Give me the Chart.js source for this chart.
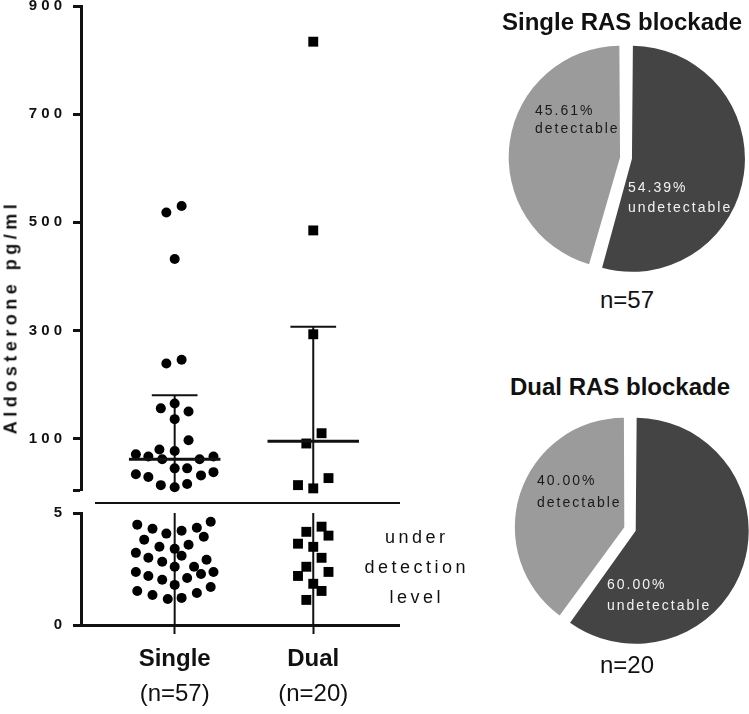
<!DOCTYPE html>
<html>
<head>
<meta charset="utf-8">
<script src="https://cdn.jsdelivr.net/npm/chart.js@4.4.1/dist/chart.umd.min.js"></script>
<style>
  html, body { margin: 0; padding: 0; background: #fff; }
  body { width: 749px; height: 714px; position: relative; overflow: hidden; font-family: "Liberation Sans", Arial, sans-serif; color: #111; }
  canvas { position: absolute; }
  .txt { position: absolute; white-space: nowrap; }
  .title { font-size: 24px; font-weight: bold; line-height: 24px; transform: translateX(-50%); }
  .count { font-size: 24px; line-height: 24px; transform: translateX(-50%); }
  .slice { font-size: 14px; letter-spacing: 2px; }
</style>
</head>
<body>
<canvas id="upper" width="400" height="496" style="left:0;top:0"></canvas>
<div style="position:absolute;left:95px;top:502px;width:305px;height:2px;background:#111"></div>
<canvas id="lower" width="400" height="209" style="left:0;top:505px"></canvas>
<div class="txt" style="left:11px;top:317px;font-size:18px;font-weight:bold;letter-spacing:4.5px;transform:translate(-50%,-50%) rotate(-90deg)">Aldosterone pg/ml</div>
<div class="txt" style="left:415px;top:522px;font-size:18px;line-height:30px;letter-spacing:3.5px;text-align:center;transform:translateX(-50%);padding-left:3.5px">under<br>detection<br>level</div>

<canvas id="pieSingle" width="250" height="250" style="left:501px;top:33px"></canvas>
<canvas id="pieDual" width="250" height="250" style="left:505px;top:404px"></canvas>
<div class="txt title" style="left:622px;top:10px">Single RAS blockade</div>
<div class="txt count" style="left:627px;top:288px">n=57</div>
<div class="txt title" style="left:620px;top:375px">Dual RAS blockade</div>
<div class="txt count" style="left:627px;top:653px">n=20</div>
<div class="txt slice" style="left:535px;top:101px;line-height:18px;color:#1a1a1a">45.61%<br>detectable</div>
<div class="txt slice" style="left:628px;top:177px;line-height:20px;color:#f2f2f2">54.39%<br>undetectable</div>
<div class="txt slice" style="left:537px;top:469px;line-height:22px;color:#1a1a1a">40.00%<br>detectable</div>
<div class="txt slice" style="left:607px;top:574px;line-height:21px;color:#f2f2f2">60.00%<br>undetectable</div>

<script>
const family = '"Liberation Sans", Arial, sans-serif'

const groups = ['Single', 'Dual']
const groupN = [57, 20]
const groupPos = [1, 2]

// detectable aldosterone (pg/ml) and horizontal scatter of each dot
const singleHigh = [530, 518, 432, 246, 239, 165, 156, 150, 136, 97, 80, 77, 71, 67, 62, 62, 67, 45, 45, 34, 29, 32, 38, 14, 10, 16]
const singleHighDx = [0.05, -0.06, 0, 0.05, -0.06, 0, -0.1, 0.1, 0, 0.1, -0.11, 0, -0.28, -0.19, -0.09, 0.18, 0.28, 0, 0.09, -0.28, -0.19, 0.19, 0.28, -0.1, 0, 0.09]
const dualHigh = [834, 485, 293, 110, 91, 14, 8, 27]
const dualHighDx = [0, 0, 0, 0.06, -0.05, -0.11, 0, 0.11]

// under detection level
const singleLow = [4.48, 4.30, 4.08, 4.21, 4.34, 4.61, 3.81, 3.94, 3.49, 3.40, 3.58, 3.22, 3.00, 3.09, 2.82, 2.91, 2.60, 2.60, 2.37, 2.28, 2.37, 2.19, 2.10, 2.02, 1.79, 1.52, 1.34, 1.16, 1.21, 1.43, 1.70]
const singleLowDx = [-0.27, -0.16, -0.06, 0.05, 0.16, 0.26, -0.22, 0.21, -0.11, 0, 0.1, -0.28, -0.19, 0.05, -0.09, 0.23, 0, 0.14, -0.28, 0.19, 0.28, -0.19, 0.09, -0.09, 0, -0.27, -0.16, -0.05, 0.05, 0.16, 0.26]
const dualLow = [4.16, 4.39, 3.99, 3.63, 3.49, 3.00, 2.60, 2.37, 2.19, 1.84, 1.52, 1.12]
const dualLowDx = [-0.05, 0.06, 0.11, -0.11, 0, 0.06, -0.05, 0.11, -0.11, 0, 0.06, -0.05]

// summary lines
const medians = [62, 95]
const whiskerTop = [180, 307]
const whiskerBottom = [0, 0]

const upperTicks = [5, 100, 300, 500, 700, 900]
const lowerTicks = [0, 5]

const pieLabels = ['undetectable', 'detectable']
const singleShares = [54.39, 45.61]
const dualShares = [60.00, 40.00]

const xMin = 0.324
const xMax = 2.626

const toPoints = (vals, dx, pos) => vals.map((v, i) => ({x: pos + dx[i], y: v}))

function dots(data, style, r) {
	return {data: data, pointStyle: style, pointRadius: r, pointHoverRadius: r, backgroundColor: '#000', borderWidth: 0, clip: false}
}

// keep the plot area where the layout padding puts it
function fixBox(size) {
	return s => {
		if (s.isHorizontal()) s.height = size
		else s.width = size
		s.paddingTop = s.paddingBottom = s.paddingLeft = s.paddingRight = 0
	}
}

function yAxis(min, max, ticks, hideFirst) {
	return {
		min: min,
		max: max,
		afterFit: fixBox(81),
		afterBuildTicks: s => { s.ticks = ticks.map(v => ({value: v})) },
		grid: {drawOnChartArea: false, tickLength: 8, tickWidth: 3, color: '#111'},
		border: {width: 3, color: '#111'},
		ticks: {
			color: '#111', padding: 11,
			font: {size: 15, weight: 'bold', family: family},
			callback: (v, i) => (hideFirst && i === 0) ? '' : String(v).split('').join(' ')
		}
	}
}

const summaryLines = {
	id: 'summaryLines',
	beforeDatasetsDraw(chart) {
		const {ctx, scales: {x, y}} = chart
		ctx.save()
		ctx.strokeStyle = '#111'
		ctx.lineWidth = 2
		groupPos.forEach((c, i) => {
			const top = Math.min(whiskerTop[i], y.max)
			const bottom = Math.max(whiskerBottom[i], y.min)
			if (top <= bottom) return
			const px = x.getPixelForValue(c)
			ctx.beginPath()
			ctx.moveTo(px, y.getPixelForValue(bottom))
			ctx.lineTo(px, y.getPixelForValue(top))
			ctx.stroke()
		})
		ctx.restore()
	},
	afterDatasetsDraw(chart) {
		const {ctx, scales: {x, y}} = chart
		ctx.save()
		ctx.strokeStyle = '#111'
		groupPos.forEach((c, i) => {
			if (whiskerTop[i] >= y.min && whiskerTop[i] <= y.max) {
				const py = y.getPixelForValue(whiskerTop[i])
				ctx.lineWidth = 2
				ctx.beginPath()
				ctx.moveTo(x.getPixelForValue(c - 0.165), py)
				ctx.lineTo(x.getPixelForValue(c + 0.165), py)
				ctx.stroke()
			}
			if (medians[i] >= y.min && medians[i] <= y.max) {
				const py = y.getPixelForValue(medians[i])
				ctx.lineWidth = 3
				ctx.beginPath()
				ctx.moveTo(x.getPixelForValue(c - 0.33), py)
				ctx.lineTo(x.getPixelForValue(c + 0.33), py)
				ctx.stroke()
			}
		})
		ctx.restore()
	}
}

const common = {
	responsive: false,
	animation: false,
	devicePixelRatio: 1,
	plugins: {legend: {display: false}, tooltip: {enabled: false}}
}

new Chart(document.getElementById('upper'), {
	type: 'scatter',
	data: {
		datasets: [
			dots(toPoints(singleHigh, singleHighDx, groupPos[0]), 'circle', 5),
			dots(toPoints(dualHigh, dualHighDx, groupPos[1]), 'rect', 7)
		]
	},
	options: Object.assign({}, common, {
		layout: {autoPadding: false, padding: {top: 6, bottom: 6, left: 0, right: 0}},
		scales: {
			x: {type: 'linear', display: false, min: xMin, max: xMax},
			y: yAxis(5, 900, upperTicks, true)
		}
	}),
	plugins: [summaryLines]
})

new Chart(document.getElementById('lower'), {
	type: 'scatter',
	data: {
		datasets: [
			dots(toPoints(singleLow, singleLowDx, groupPos[0]), 'circle', 5),
			dots(toPoints(dualLow, dualLowDx, groupPos[1]), 'rect', 7)
		]
	},
	options: Object.assign({}, common, {
		layout: {autoPadding: false, padding: {top: 8, bottom: 0, left: 0, right: 0}},
		scales: {
			x: {
				type: 'linear', position: 'bottom', weight: 0, min: xMin, max: xMax,
				afterFit: fixBox(55),
				afterBuildTicks: s => { s.ticks = groupPos.map(v => ({value: v})) },
				grid: {drawOnChartArea: false, tickLength: 9, tickWidth: 2, color: '#111'},
				border: {width: 3, color: '#111'},
				ticks: {
					color: '#111', padding: 11, autoSkip: false, maxRotation: 0,
					font: {size: 24, weight: 'bold', family: family},
					callback: v => groups[groupPos.indexOf(v)]
				}
			},
			x2: {
				type: 'linear', position: 'bottom', weight: 1, min: xMin, max: xMax,
				afterFit: fixBox(34),
				afterBuildTicks: s => { s.ticks = groupPos.map(v => ({value: v})) },
				grid: {display: false, drawTicks: false},
				border: {display: false},
				ticks: {
					color: '#111', padding: 0, autoSkip: false, maxRotation: 0,
					font: {size: 24, family: family},
					callback: v => '(n=' + groupN[groupPos.indexOf(v)] + ')'
				}
			},
			y: yAxis(0, 5, lowerTicks, false)
		}
	}),
	plugins: [summaryLines]
})

// arc offset is drawn at a quarter of its value and also widens the arc
function pie(id, shares) {
	new Chart(document.getElementById(id), {
		type: 'pie',
		data: {
			labels: pieLabels,
			datasets: [{
				data: shares,
				backgroundColor: ['#444444', '#9b9b9b'],
				borderWidth: 0,
				offset: 24,
				hoverOffset: 0
			}]
		},
		options: Object.assign({}, common, {radius: 107, layout: {autoPadding: false, padding: 0}})
	})
}

pie('pieSingle', singleShares)
pie('pieDual', dualShares)
</script>
</body>
</html>
